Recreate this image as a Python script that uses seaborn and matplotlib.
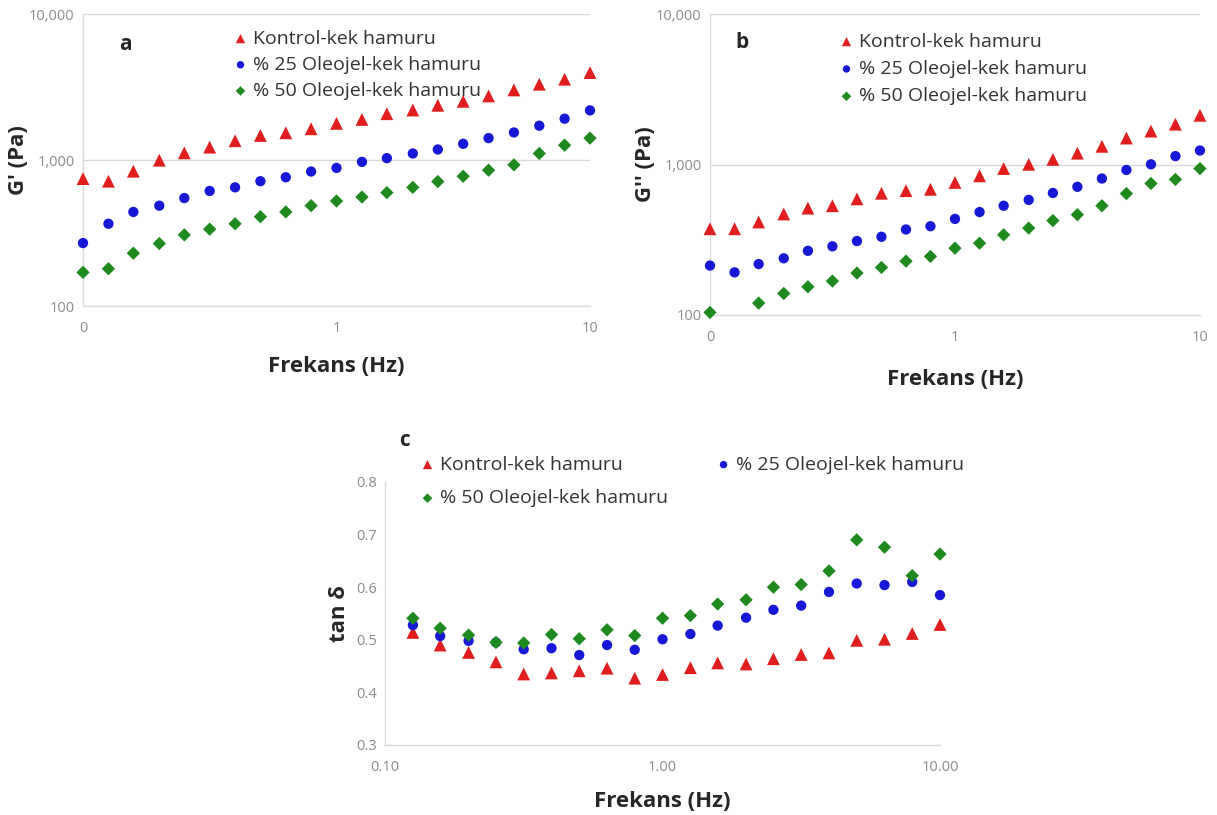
import numpy as np
import pandas as pd
import matplotlib
matplotlib.use("Agg")
import matplotlib.pyplot as plt
import matplotlib.ticker as mticker
import seaborn as sns

# ---------------- data ----------------
freq_ab = [0.1, 0.126, 0.158, 0.2, 0.251, 0.316, 0.398, 0.501, 0.631, 0.794,
           1.0, 1.26, 1.58, 2.0, 2.51, 3.16, 3.98, 5.01, 6.31, 7.94, 10.0]
freq_c = [0.126, 0.158, 0.2, 0.251, 0.316, 0.398, 0.501, 0.631, 0.794,
          1.0, 1.26, 1.58, 2.0, 2.51, 3.16, 3.98, 5.01, 6.31, 7.94, 10.0]

series_names = ["Kontrol-kek hamuru", "% 25 Oleojel-kek hamuru", "% 50 Oleojel-kek hamuru"]

g1_kontrol = [746, 716, 838, 997, 1120, 1225, 1355, 1473, 1537, 1637, 1782,
              1897, 2076, 2200, 2370, 2524, 2747, 3020, 3304, 3574, 3972]
g1_ol25 = [270, 366, 441, 487, 549, 614, 650, 716, 762, 834, 883,
           971, 1030, 1109, 1181, 1292, 1413, 1545, 1717, 1919, 2188]
g1_ol50 = [170, 180, 230, 268, 307, 336, 366, 409, 441, 487, 524,
           558, 598, 650, 712, 774, 852, 927, 1109, 1264, 1413]

g2_kontrol = [374, 374, 415, 469, 513, 532, 591, 644, 670, 684, 760,
              841, 940, 1003, 1081, 1189, 1321, 1499, 1667, 1853, 2123]
g2_ol25 = [213, 192, 218, 238, 267, 286, 310, 331, 370, 389, 435,
           483, 532, 582, 647, 711, 807, 920, 1003, 1137, 1239]
g2_ol50 = [104, np.nan, 120, 139, 154, 168, 190, 207, 228, 245, 278,
           300, 341, 378, 424, 464, 532, 641, 748, 796, 940]

tan_kontrol = [0.514, 0.490, 0.476, 0.458, 0.435, 0.437, 0.441, 0.446, 0.427, 0.434,
               0.447, 0.456, 0.454, 0.464, 0.472, 0.475, 0.499, 0.501, 0.512, 0.529]
tan_ol25 = [0.528, 0.507, 0.498, 0.495, 0.482, 0.484, 0.471, 0.490, 0.481, 0.501,
            0.511, 0.527, 0.542, 0.557, 0.565, 0.591, 0.607, 0.604, 0.610, 0.585]
tan_ol50 = [0.541, 0.522, 0.509, 0.495, 0.494, 0.510, 0.502, 0.519, 0.508, 0.541,
            0.546, 0.568, 0.576, 0.600, 0.605, 0.631, 0.690, 0.676, 0.622, 0.663]

# ---------------- style ----------------
sns.set_theme(style="white")
plt.rcParams["font.family"] = ["Open Sans", "DejaVu Sans"]

colors = ["#e01e1e", "#1717d6", "#1e8a1e"]
markers = ["^", "o", "D"]
sizes = [85, 55, 46]
tick_col = "#8c8c8c"
grid_col = "#d9d9d9"
label_fs = 16
legend_fs = 14

fig = plt.figure(figsize=(12.17, 8.15), dpi=100)
ax_a = fig.add_axes([0.0682, 0.6245, 0.4166, 0.3583])
ax_b = fig.add_axes([0.5834, 0.6135, 0.4026, 0.3693])
ax_c = fig.add_axes([0.3164, 0.0859, 0.4560, 0.3227])


def draw(ax, x, ys):
    for name, y, c, m, s in zip(series_names, ys, colors, markers, sizes):
        df = pd.DataFrame({"x": x, "y": y}).dropna()
        sns.scatterplot(data=df, x="x", y="y", ax=ax, color=c, marker=m, s=s,
                        edgecolor="none", label=name, legend=False, clip_on=False,
                        zorder=3)


def style_axes(ax):
    for side in ["top", "right"]:
        ax.spines[side].set_visible(False)
    for side in ["left", "bottom"]:
        ax.spines[side].set_color(grid_col)
        ax.spines[side].set_linewidth(1.0)
    ax.tick_params(axis="both", which="both", length=0, colors=tick_col, labelsize=10.5)
    ax.set_xscale("log")


def log_axes(ax):
    ax.set_yscale("log")
    ax.set_xlim(0.1, 10)
    ax.set_ylim(100, 10000)
    ax.xaxis.set_major_locator(mticker.FixedLocator([0.1, 1, 10]))
    ax.xaxis.set_major_formatter(mticker.FuncFormatter(lambda v, p: f"{v:.0f}"))
    ax.xaxis.set_minor_locator(mticker.NullLocator())
    ax.yaxis.set_major_locator(mticker.FixedLocator([100, 1000, 10000]))
    ax.yaxis.set_major_formatter(mticker.FuncFormatter(lambda v, p: f"{v:,.0f}"))
    ax.yaxis.set_minor_locator(mticker.NullLocator())
    ax.grid(axis="y", which="major", color=grid_col, linewidth=1.0)
    ax.tick_params(axis="x", pad=11)
    ax.tick_params(axis="y", pad=6)


# panel a
draw(ax_a, freq_ab, [g1_kontrol, g1_ol25, g1_ol50])
style_axes(ax_a)
log_axes(ax_a)
ax_a.set_xlabel("Frekans (Hz)", fontsize=label_fs, fontweight="bold", labelpad=14)
ax_a.set_ylabel("G' (Pa)", fontsize=label_fs, fontweight="bold", labelpad=0)

# panel b
draw(ax_b, freq_ab, [g2_kontrol, g2_ol25, g2_ol50])
style_axes(ax_b)
log_axes(ax_b)
ax_b.set_xlabel("Frekans (Hz)", fontsize=label_fs, fontweight="bold", labelpad=17)
ax_b.set_ylabel("G'' (Pa)", fontsize=label_fs, fontweight="bold", labelpad=0)

# panel c
draw(ax_c, freq_c, [tan_kontrol, tan_ol25, tan_ol50])
style_axes(ax_c)
ax_c.set_xlim(0.1, 10)
ax_c.set_ylim(0.3, 0.8)
ax_c.xaxis.set_major_locator(mticker.FixedLocator([0.1, 1, 10]))
ax_c.xaxis.set_major_formatter(mticker.FuncFormatter(lambda v, p: f"{v:.2f}"))
ax_c.xaxis.set_minor_locator(mticker.NullLocator())
ax_c.yaxis.set_major_locator(mticker.MultipleLocator(0.1))
ax_c.yaxis.set_major_formatter(mticker.FuncFormatter(lambda v, p: f"{v:.1f}"))
ax_c.tick_params(axis="x", pad=11)
ax_c.tick_params(axis="y", pad=6)
ax_c.set_xlabel("Frekans (Hz)", fontsize=label_fs, fontweight="bold", labelpad=11)
ax_c.set_ylabel("tan δ", fontsize=label_fs, fontweight="bold", labelpad=4)

# panel letters
fig.text(125 / 1217, 1 - 45 / 815, "a", fontsize=15, fontweight="bold", ha="center", va="center")
fig.text(742 / 1217, 1 - 43 / 815, "b", fontsize=15, fontweight="bold", ha="center", va="center")
fig.text(405 / 1217, 1 - 440 / 815, "c", fontsize=15, fontweight="bold", ha="center", va="center")

leg_kw = dict(frameon=False, fontsize=legend_fs, handletextpad=0.2, borderpad=0,
              handlelength=0.9, markerscale=0.72, labelcolor="#333333")

h, l = ax_a.get_legend_handles_labels()
ax_a.legend(h, l, loc="upper left", bbox_to_anchor=(222 / 1217, 1 - 20 / 815),
            bbox_transform=fig.transFigure, labelspacing=0.42, **leg_kw)
h, l = ax_b.get_legend_handles_labels()
ax_b.legend(h, l, loc="upper left", bbox_to_anchor=(828 / 1217, 1 - 23 / 815),
            bbox_transform=fig.transFigure, labelspacing=0.48, **leg_kw)
h, l = ax_c.get_legend_handles_labels()
order = [0, 2, 1]
ax_c.legend([h[i] for i in order], [l[i] for i in order], loc="upper left",
            bbox_to_anchor=(409 / 1217, 1 - 446 / 815),
            bbox_transform=fig.transFigure, ncol=2, columnspacing=2.4,
            labelspacing=0.8, **leg_kw)

fig.savefig("out.png", dpi=100, facecolor="white")
